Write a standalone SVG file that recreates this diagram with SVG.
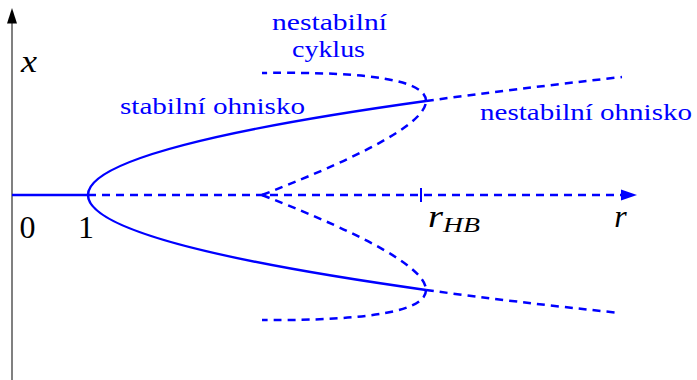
<svg xmlns="http://www.w3.org/2000/svg" width="697" height="380" viewBox="0 0 697 380">
<style>
.c{fill:none;stroke:#0000ff;stroke-width:2.5}
.d{fill:none;stroke:#0000ff;stroke-width:2.5;stroke-dasharray:8 6}
</style>
<rect width="697" height="380" fill="#fff"/>
<g id="axes">
<line x1="12" y1="380" x2="12" y2="20" stroke="#808080" stroke-width="2"/>
<polygon points="12,8 17,23.5 7,23.5" fill="#000"/>
<line x1="12" y1="195" x2="88" y2="195" class="c"/>
<line x1="88" y1="195" x2="622" y2="195" class="d"/>
<polygon points="637,195 621,189.5 621,200.5" fill="#0000ff"/>
<line x1="421" y1="188" x2="421" y2="202" stroke="#0000ff" stroke-width="2"/>
</g>
<g id="curves">
<path class="c" d="M426,101 Q88,148 88,195 Q88,242.5 426,290"/>
<path class="d" d="M426,101 Q514,89 622,77"/>
<path class="d" d="M426,290 Q514,302 620,313"/>
<path class="d" d="M426,101 Q426,70.5 262,73"/>
<path class="d" d="M262,195 Q426,131.5 426,101"/>
<path class="d" d="M426,290 Q426,321.25 262,320"/>
<path class="d" d="M262,195 Q426,258.75 426,290"/>
</g>
<g id="labels" font-family="Liberation Serif, serif">
<g fill="#0000ff" font-size="24">
<text x="272" y="30" textLength="115" lengthAdjust="spacingAndGlyphs">nestabilní</text>
<text x="292" y="56.5" textLength="73" lengthAdjust="spacingAndGlyphs">cyklus</text>
<text x="120" y="114" textLength="185" lengthAdjust="spacingAndGlyphs">stabilní ohnisko</text>
<text x="480" y="120" textLength="212" lengthAdjust="spacingAndGlyphs">nestabilní ohnisko</text>
</g>
<g fill="#000" font-size="32">
<text x="21" y="72" font-style="italic" textLength="16" lengthAdjust="spacingAndGlyphs">x</text>
<text x="27.5" y="238" text-anchor="middle">0</text>
<text x="86" y="238" text-anchor="middle">1</text>
<text x="620.5" y="226.5" font-style="italic" text-anchor="middle">r</text>
<text x="428" y="226.5" font-style="italic" textLength="15" lengthAdjust="spacingAndGlyphs">r</text>
<text x="443" y="232" font-style="italic" font-size="21" textLength="37" lengthAdjust="spacingAndGlyphs">HB</text>
</g>
</g>
</svg>
